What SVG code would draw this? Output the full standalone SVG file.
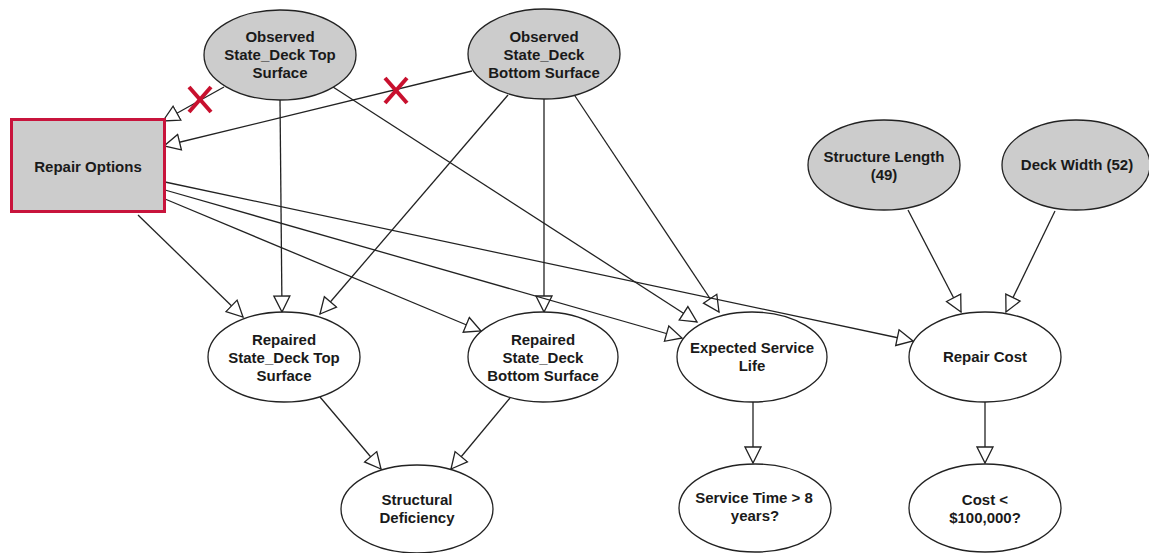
<svg xmlns="http://www.w3.org/2000/svg" width="1149" height="553" viewBox="0 0 1149 553">
  <style>
    .node ellipse { stroke: #222; stroke-width: 1.3; }
    .chance { fill: #ffffff; }
    .observed { fill: #cccccc; }
    .label { font-family: "Liberation Sans", Arial, sans-serif; font-weight: bold; font-size: 15px; fill: #1a1a1a; text-anchor: middle; }
    .edge { stroke: #222; stroke-width: 1.3; fill: none; marker-end: url(#arrow); }
    .cut { stroke: #c8102e; stroke-width: 4; stroke-linecap: butt; }
  </style>
  <defs>
    <marker id="arrow" markerUnits="userSpaceOnUse" markerWidth="19" markerHeight="19" viewBox="0 0 19 19" refX="17" refY="9.5" orient="auto">
      <path d="M1,1.5 L17,9.5 L1,17.5 Z" fill="#ffffff" stroke="#222" stroke-width="1.3"/>
    </marker>
  </defs>

  <rect width="1149" height="553" fill="#ffffff"/>

  <!-- connectors -->
  <g id="connectors">
    <line class="edge" x1="224" y1="87" x2="163" y2="121"/>
    <line class="edge" x1="472" y1="71" x2="164" y2="146"/>
    <line class="edge" x1="280" y1="100" x2="282" y2="312"/>
    <line class="edge" x1="333" y1="87" x2="697" y2="322"/>
    <line class="edge" x1="508" y1="95" x2="320" y2="314"/>
    <line class="edge" x1="544" y1="99" x2="544" y2="312"/>
    <line class="edge" x1="575" y1="96" x2="719" y2="312"/>
    <line class="edge" x1="138" y1="215" x2="243" y2="317"/>
    <line class="edge" x1="165" y1="199" x2="481" y2="331"/>
    <line class="edge" x1="165" y1="190" x2="682" y2="338"/>
    <line class="edge" x1="165" y1="182" x2="913" y2="341"/>
    <line class="edge" x1="320" y1="397" x2="381" y2="469"/>
    <line class="edge" x1="510" y1="398" x2="451" y2="469"/>
    <line class="edge" x1="753" y1="402" x2="753" y2="463"/>
    <line class="edge" x1="985" y1="402" x2="985" y2="463"/>
    <line class="edge" x1="908" y1="210" x2="961" y2="312"/>
    <line class="edge" x1="1055" y1="211" x2="1006" y2="312"/>
    <!-- removed links -->
    <g id="cut-marks">
      <line class="cut" x1="189" y1="87" x2="211" y2="112"/>
      <line class="cut" x1="211" y1="87" x2="189" y2="112"/>
      <line class="cut" x1="385" y1="78" x2="407" y2="103"/>
      <line class="cut" x1="407" y1="78" x2="385" y2="103"/>
    </g>
  </g>

  <!-- decision node -->
  <g id="repair-options" class="node">
    <rect x="11.5" y="119.5" width="153" height="92" fill="#cccccc" stroke="#c8143c" stroke-width="3"/>
    <text class="label" x="88" y="172">Repair Options</text>
  </g>

  <!-- observed nodes -->
  <g id="observed-top" class="node">
    <ellipse class="observed" cx="280" cy="55" rx="76" ry="45"/>
    <text class="label" x="280" y="42">Observed</text>
    <text class="label" x="280" y="60">State_Deck Top</text>
    <text class="label" x="280" y="78">Surface</text>
  </g>
  <g id="observed-bottom" class="node">
    <ellipse class="observed" cx="544" cy="54" rx="76" ry="45"/>
    <text class="label" x="544" y="42">Observed</text>
    <text class="label" x="544" y="60">State_Deck</text>
    <text class="label" x="544" y="78">Bottom Surface</text>
  </g>
  <g id="structure-length" class="node">
    <ellipse class="observed" cx="884" cy="165" rx="76" ry="45"/>
    <text class="label" x="884" y="162">Structure Length</text>
    <text class="label" x="884" y="180">(49)</text>
  </g>
  <g id="deck-width" class="node">
    <ellipse class="observed" cx="1076" cy="165" rx="74" ry="45"/>
    <text class="label" x="1077" y="170">Deck Width (52)</text>
  </g>

  <!-- chance nodes -->
  <g id="repaired-top" class="node">
    <ellipse class="chance" cx="284" cy="357" rx="76" ry="45"/>
    <text class="label" x="284" y="345">Repaired</text>
    <text class="label" x="284" y="363">State_Deck Top</text>
    <text class="label" x="284" y="381">Surface</text>
  </g>
  <g id="repaired-bottom" class="node">
    <ellipse class="chance" cx="543" cy="357" rx="75" ry="45"/>
    <text class="label" x="543" y="345">Repaired</text>
    <text class="label" x="543" y="363">State_Deck</text>
    <text class="label" x="543" y="381">Bottom Surface</text>
  </g>
  <g id="structural-deficiency" class="node">
    <ellipse class="chance" cx="417" cy="509" rx="76" ry="44"/>
    <text class="label" x="417" y="505">Structural</text>
    <text class="label" x="417" y="523">Deficiency</text>
  </g>
  <g id="expected-service-life" class="node">
    <ellipse class="chance" cx="752" cy="357" rx="75" ry="45"/>
    <text class="label" x="752" y="353">Expected Service</text>
    <text class="label" x="752" y="371">Life</text>
  </g>
  <g id="repair-cost" class="node">
    <ellipse class="chance" cx="985" cy="357" rx="76" ry="45"/>
    <text class="label" x="985" y="362">Repair Cost</text>
  </g>
  <g id="service-time" class="node">
    <ellipse class="chance" cx="755" cy="508" rx="76" ry="44"/>
    <text class="label" x="754" y="503">Service Time &gt; 8</text>
    <text class="label" x="755" y="521">years?</text>
  </g>
  <g id="cost-threshold" class="node">
    <ellipse class="chance" cx="985" cy="508" rx="76" ry="44"/>
    <text class="label" x="985" y="505">Cost &lt;</text>
    <text class="label" x="985" y="523">$100,000?</text>
  </g>
</svg>
